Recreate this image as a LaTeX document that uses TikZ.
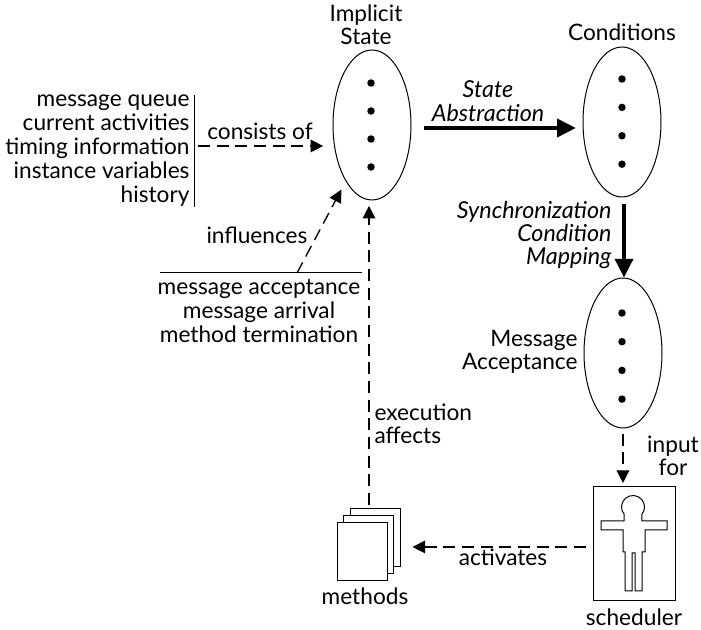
\documentclass[tikz,border=0pt]{standalone}
\usepackage{fontspec}
\setmainfont{Lato}
\usepackage{tikz}
\usetikzlibrary{arrows.meta}
\usetikzlibrary{shapes.geometric}

\begin{document}
\begin{tikzpicture}[
x=0.75pt,y=-0.75pt,line width=0.75pt,
% styles for the shapes
stateset/.style={draw,ellipse,inner sep=0pt,minimum width=58.5pt,minimum height=112.5pt},
dotmark/.style={circle,fill=black,inner sep=0pt,minimum size=5.6pt},
page/.style={draw,fill=white,inner sep=0pt,minimum width=37.5pt,minimum height=43.5pt},
schedbox/.style={draw,inner sep=0pt,minimum width=61.5pt,minimum height=86pt},
% styles for the texts
lbl/.style={inner sep=0pt,font=\fontsize{17}{17}\selectfont},
listlbl/.style={lbl,font=\fontsize{17}{18}\selectfont},
slant/.style={lbl,font=\fontsize{17.5}{17.5}\selectfont\itshape},
% styles for the arrows
dasharrow/.style={line width=1pt,dash pattern=on 9pt off 5pt,-{Triangle[length=9.5pt,width=9.5pt]}},
bigarrow/.style={line width=2.6pt,-{Triangle[length=14pt,width=13.5pt]}}]
\useasboundingbox (0,0) rectangle (701,630);
% ellipses and their dots
\node[stateset] (implicit) at (372,125) {};
\node[stateset] (conditions) at (622,122) {};
\node[stateset] (msgaccept) at (623,353) {};
\foreach \i in {0, 1, 2, 3} {
    \node[dotmark] (impldot\i) at (371,{83+28*\i}) {};
    \node[dotmark] (conddot\i) at (622,{79+28.4*\i}) {};
    \node[dotmark] (msgdot\i) at (622,{313+28.7*\i}) {};
}
% methods, back to front
\node[page] (pageback) at (375,538) {};
\node[page] (pagemid) at (368,545) {};
\node[page] (pagefront) at (362,552) {};
% scheduler and its figure
\node[schedbox] (scheduler) at (634,543.5) {};
\draw (624.2,521) -- (624.2,514.4) arc[radius=11.5, start angle=140, end angle=400]
  -- (641.8,521) -- (667,521) -- (667,530) -- (645,530) -- (645,552) -- (642,552)
  -- (642,591) -- (635,591) -- (635,553) -- (632,553) -- (632,591) -- (625,591)
  -- (625,552) -- (623,552) -- (623,530) -- (601,530) -- (601,521) -- cycle;
% annotations
\node[lbl,align=center] (implicitlbl) at (366,25) {Implicit\\State};
\node[lbl] (condlbl) at (622,32) {Conditions};
\node[listlbl,align=right,anchor=east] (parts) at (190,151) {message queue\\current activities\\timing information\\instance variables\\history};
\node[lbl] (consistslbl) at (260,131) {consists of};
\node[lbl] (influenceslbl) at (257,235) {influences};
\node[listlbl,align=center,anchor=north] (accept) at (259,279) {message acceptance\\message arrival\\method termination};
\node[slant,align=center] (abstractlbl) at (488,101) {State\\Abstraction};
\node[slant,align=right,anchor=east] (synclbl) at (612,235) {Synchronization\\Condition\\Mapping};
\node[lbl,align=right,anchor=east] (msglbl) at (578,352) {Message\\Acceptance};
\node[lbl,align=left,anchor=west] (execlbl) at (374,424) {execution\\affects};
\node[lbl,align=center] (inputlbl) at (673,456) {input\\for};
\node[lbl] (activateslbl) at (503,557) {activates};
\node[lbl] (methodslbl) at (365,596) {methods};
\node[lbl] (schedlbl) at (634,617) {scheduler};
% plain rules
\draw ([xshift=3pt]parts.north east) -- ([xshift=3pt]parts.south east);
\coordinate (rulefrom) at (160,273);
\coordinate (ruleto) at (362,273);
\draw (rulefrom) -- (ruleto);
% thick arrows
\draw[bigarrow,shorten <=9pt,shorten >=5pt] ([yshift=-2.25pt]implicit.east) -- ([yshift=-2.25pt]implicit.east -| conditions.west);
\draw[bigarrow,shorten <=5pt] ([xshift=1.5pt]conditions.south) -- ([xshift=1.5pt]conditions.south |- msgaccept.north);
% dashed arrows
\coordinate (consistsfrom) at (198,146);
\coordinate (inflfrom) at (297,273);
\coordinate (execfrom) at (369,505);
\draw[dasharrow,shorten >=7pt] (consistsfrom) -- (consistsfrom -| implicit.west);
\draw[dasharrow,shorten >=7pt] (inflfrom) -- (implicit.245);
\draw[dasharrow,shorten >=4pt] (execfrom) -- (execfrom |- implicit.south);
\draw[dasharrow,shorten <=4pt,shorten >=2pt] (msgaccept.south) -- (msgaccept.south |- scheduler.north);
\draw[dasharrow,shorten <=5pt,shorten >=9pt] ([yshift=-2.6pt]scheduler.west) -- ([yshift=-2.6pt]scheduler.west -| pageback.east);
\end{tikzpicture}
\end{document}
